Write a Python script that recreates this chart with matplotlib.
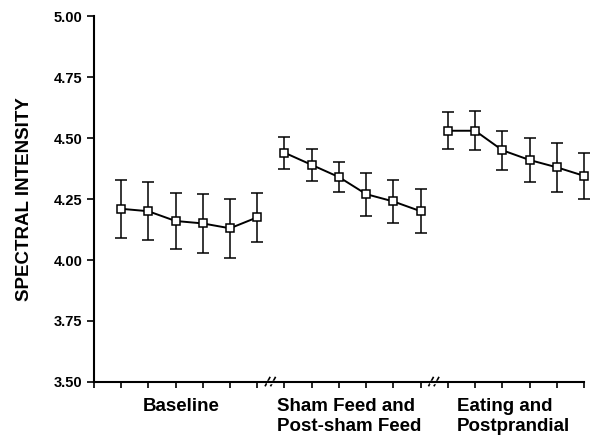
import matplotlib
matplotlib.use("Agg")
import matplotlib.pyplot as plt
import matplotlib.transforms as mtransforms
import numpy as np

plt.rcParams['font.family'] = ['Liberation Sans', 'DejaVu Sans']
plt.rcParams['font.weight'] = 'bold'

# ---- data ----
group_labels = ["Baseline", "Sham Feed and\nPost-sham Feed", "Eating and\nPostprandial"]
baseline_means = [4.21, 4.20, 4.16, 4.15, 4.13, 4.175]
baseline_err = [0.12, 0.12, 0.115, 0.12, 0.12, 0.10]
sham_means = [4.44, 4.39, 4.34, 4.27, 4.24, 4.20]
sham_err = [0.065, 0.065, 0.06, 0.088, 0.087, 0.09]
eating_means = [4.53, 4.53, 4.45, 4.41, 4.38, 4.345]
eating_err = [0.075, 0.08, 0.08, 0.09, 0.10, 0.095]
y_ticks = [3.50, 3.75, 4.00, 4.25, 4.50, 4.75, 5.00]

groups = [(baseline_means, baseline_err), (sham_means, sham_err), (eating_means, eating_err)]

fig = plt.figure(figsize=(5.9, 4.36), dpi=100)
ax = fig.add_axes([0.159, 0.124, 0.831, 0.839])

n = len(baseline_means)
for gi, (m, e) in enumerate(groups):
    x = np.arange(1, n + 1) + gi * n
    lines = ax.errorbar(x, m, yerr=e, fmt='-', color='black', lw=1.4, elinewidth=1.1,
                        capsize=4.3, capthick=1.1, marker='s', markersize=5.5,
                        markerfacecolor='white', markeredgecolor='black', markeredgewidth=1.1,
                        zorder=3)
    for art in lines.get_children():
        art.set_clip_on(False)

total = 3 * n
ax.set_xlim(0, total)
ax.set_ylim(3.5, 5.0)
ax.set_yticks(y_ticks)
ax.set_yticklabels([f"{v:.2f}" for v in y_ticks], fontsize=10.5, fontweight='bold')
ax.set_xticks(np.arange(0, total + 1))
ax.set_xticklabels([])
ax.tick_params(axis='y', direction='out', length=5, width=1.2, pad=3)
ax.tick_params(axis='x', direction='out', length=4, width=1.2)
ax.spines['top'].set_visible(False)
ax.spines['right'].set_visible(False)
ax.spines['left'].set_linewidth(1.5)
ax.spines['bottom'].set_linewidth(1.5)

ax.set_ylabel("SPECTRAL INTENSITY", fontsize=13.5, fontweight='bold')
ax.yaxis.set_label_coords(-0.124, 0.5)

# axis break marks
trans = mtransforms.blended_transform_factory(ax.transData, ax.transAxes)
for gi in (1, 2):
    xb = gi * n + 0.5
    for dx in (-0.12, 0.08):
        ax.plot([xb + dx - 0.08, xb + dx + 0.08], [-0.01, 0.012], transform=trans,
                color='black', lw=1.2, clip_on=False)
    ax.plot([xb - 0.12, xb + 0.1], [0, 0], transform=trans, color='white', lw=2.5,
            clip_on=False, zorder=2)

# group labels
ax.text(3.2, -0.044, group_labels[0], transform=trans, ha='center', va='top',
        fontsize=13.5, fontweight='bold')
ax.text(6.71, -0.044, group_labels[1], transform=trans, ha='left', va='top',
        fontsize=13.5, fontweight='bold', linespacing=1.25)
ax.text(13.33, -0.044, group_labels[2], transform=trans, ha='left', va='top',
        fontsize=13.5, fontweight='bold', linespacing=1.25)

fig.savefig("out.png", dpi=100)
